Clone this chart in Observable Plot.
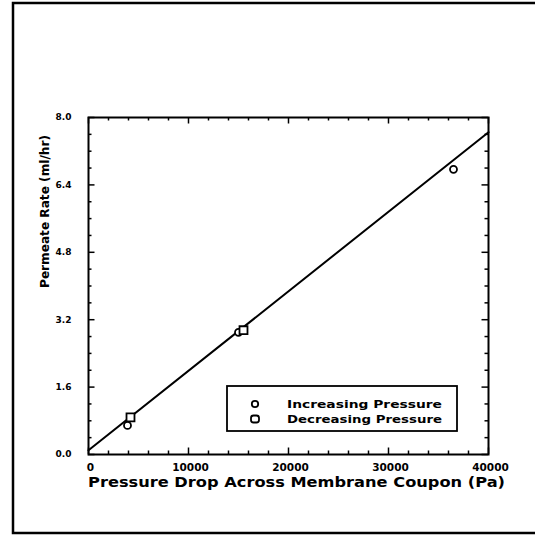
<!DOCTYPE html>
<html>
<head>
<meta charset="utf-8">
<script src="https://cdn.jsdelivr.net/npm/d3@7"></script>
<script src="https://cdn.jsdelivr.net/npm/@observablehq/plot@0.6"></script>
<style>
  html, body { margin: 0; padding: 0; background: white; overflow: hidden; }
  #chart svg { display: block; }
</style>
</head>
<body>
<div id="chart"></div>
<script>
// ---- data ----
const xMajor = [0, 10000, 20000, 30000, 40000];
const xMinor = [2000, 4000, 6000, 8000, 12000, 14000, 16000, 18000, 22000, 24000, 26000, 28000, 32000, 34000, 36000, 38000];
const yMajor = [0, 1.6, 3.2, 4.8, 6.4, 8.0];
const yMinor = [0.4, 0.8, 1.2, 2.0, 2.4, 2.8, 3.6, 4.0, 4.4, 5.2, 5.6, 6.0, 6.8, 7.2, 7.6];

const incX = [3900, 15000, 36500];
const incY = [0.69, 2.90, 6.77];
const decX = [4200, 15500];
const decY = [0.88, 2.95];

const fitX = [0, 40000];
const fitY = [0.10, 7.65];

const xLabel = "Pressure Drop Across Membrane Coupon (Pa)";
const yLabel = "Permeate Rate (ml/hr)";
const legendLabels = ["Increasing Pressure", "Decreasing Pressure"];

const inc = incX.map((x, i) => ({x, y: incY[i]}));
const dec = decX.map((x, i) => ({x, y: decY[i]}));
const fit = fitX.map((x, i) => ({x, y: fitY[i]}));

const W = 535, H = 535;
const mL = 88, mR = 47, mT = 117, mB = 81;
const fw = W - mL - mR, fh = H - mT - mB;
const major = 6.5, minor = 3.5;
const font = "DejaVu Sans";

const chart = Plot.plot({
  width: W, height: H,
  marginLeft: mL, marginRight: mR, marginTop: mT, marginBottom: mB,
  x: {domain: [0, 40000]},
  y: {domain: [0, 8]},
  style: {fontFamily: font, background: "white", color: "black"},
  marks: [
    // inward ticks
    Plot.tickX(xMajor, {x: d => d, insetTop: fh - major, stroke: "black", strokeWidth: 1.5}),
    Plot.tickX(xMajor, {x: d => d, insetBottom: fh - major, stroke: "black", strokeWidth: 1.5}),
    Plot.tickX(xMinor, {x: d => d, insetTop: fh - minor, stroke: "black", strokeWidth: 1.5}),
    Plot.tickX(xMinor, {x: d => d, insetBottom: fh - minor, stroke: "black", strokeWidth: 1.5}),
    Plot.tickY(yMajor, {y: d => d, insetRight: fw - major, stroke: "black", strokeWidth: 1.5}),
    Plot.tickY(yMajor, {y: d => d, insetLeft: fw - major, stroke: "black", strokeWidth: 1.5}),
    Plot.tickY(yMinor, {y: d => d, insetRight: fw - minor, stroke: "black", strokeWidth: 1.5}),
    Plot.tickY(yMinor, {y: d => d, insetLeft: fw - minor, stroke: "black", strokeWidth: 1.5}),
    Plot.frame({stroke: "black", strokeWidth: 2}),
    Plot.axisX(xMajor, {tickSize: 0, tickPadding: 9, tickFormat: d => String(d), fontSize: 10.5, fontWeight: "bold", label: null, dx: 2}),
    Plot.axisY(yMajor, {tickSize: 0, tickPadding: 17, tickFormat: d3.format(".1f"), fontSize: 9, fontWeight: "bold", label: null}),
    // fit line
    Plot.line(fit, {x: "x", y: "y", stroke: "black", strokeWidth: 2}),
    // data
    Plot.dot(inc, {x: "x", y: "y", r: 3.5, stroke: "black", strokeWidth: 1.8, fill: "white"}),
    Plot.dot(dec, {x: "x", y: "y", symbol: "square", r: 4.5, stroke: "black", strokeWidth: 1.8, fill: "white"}),
    // axis titles
    Plot.text([xLabel], {text: d => d, frameAnchor: "bottom", dy: 32, dx: 8, fontSize: 14, fontWeight: "bold", className: "xlab"}),
    Plot.text([yLabel], {text: d => d, frameAnchor: "left", rotate: -90, dx: -44, dy: 2, fontSize: 13, fontWeight: "bold", className: "ylab"})
  ]
});

document.getElementById("chart").appendChild(chart);

const svg = d3.select(chart);
svg.selectAll(".xlab text").attr("textLength", 417).attr("lengthAdjust", "spacingAndGlyphs");
svg.selectAll(".ylab text").attr("textLength", 153).attr("lengthAdjust", "spacingAndGlyphs");

// outer page border (left, top, bottom)
svg.append("path")
  .attr("d", `M${W},533 H13 V3 H${W}`)
  .attr("fill", "none").attr("stroke", "black").attr("stroke-width", 2.5);

// legend
const lg = svg.append("g");
lg.append("rect").attr("x", 227).attr("y", 386).attr("width", 230).attr("height", 45)
  .attr("fill", "white").attr("stroke", "black").attr("stroke-width", 1.8);
lg.append("circle").attr("cx", 255).attr("cy", 404).attr("r", 3.2)
  .attr("fill", "white").attr("stroke", "black").attr("stroke-width", 1.8);
lg.append("rect").attr("x", 251).attr("y", 415.5).attr("width", 8).attr("height", 7).attr("rx", 2.5)
  .attr("fill", "white").attr("stroke", "black").attr("stroke-width", 1.8);
legendLabels.forEach((t, i) => {
  lg.append("text").attr("x", 287).attr("y", 404 + i * 15).attr("dy", "0.36em")
    .attr("text-anchor", "start")
    .attr("font-family", font).attr("font-weight", "bold").attr("font-size", 11)
    .attr("textLength", 155).attr("lengthAdjust", "spacingAndGlyphs")
    .text(t);
});
</script>
</body>
</html>
